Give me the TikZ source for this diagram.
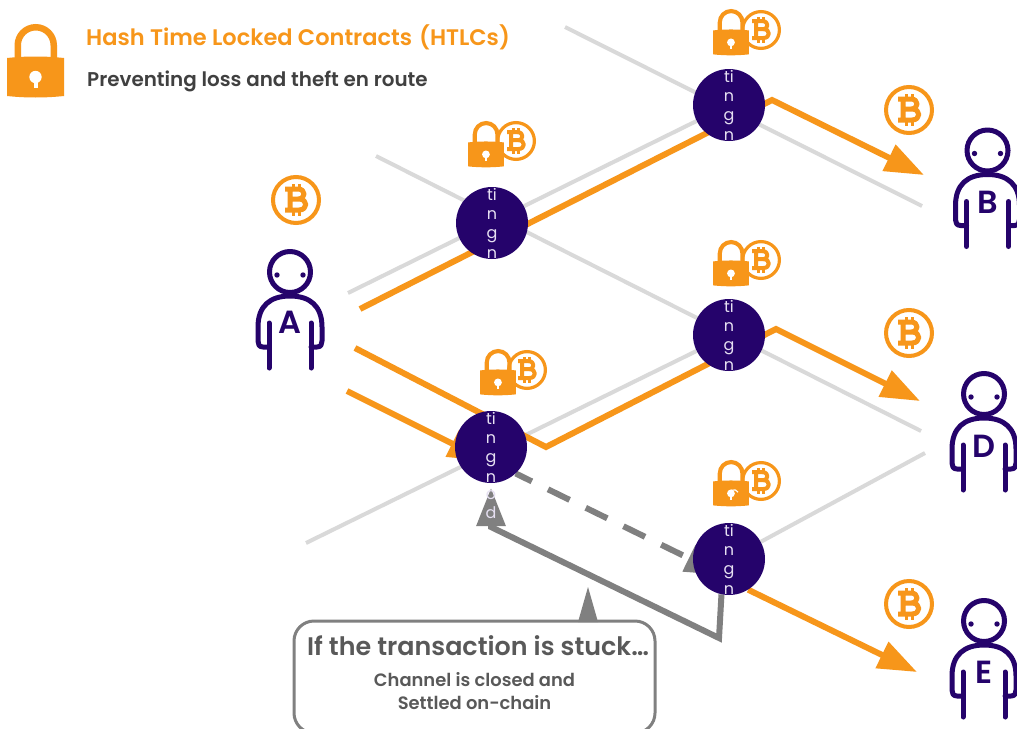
\documentclass[tikz,border=0pt]{standalone}
\usepackage{fontspec}
\setmainfont{Poppins}[BoldFont={Poppins SemiBold}]
\usetikzlibrary{arrows.meta,backgrounds,shapes.geometric}
\definecolor{btc}{HTML}{F7961A}
\definecolor{hop}{HTML}{25036B}
\definecolor{wire}{HTML}{D9D9D9}
\definecolor{stuck}{HTML}{808080}
\definecolor{ink}{HTML}{404040}
\definecolor{inkb}{HTML}{595959}
\definecolor{letter}{HTML}{E6E0F2}
\tikzset{
  hopnode/.style={circle,fill=hop,minimum size=72pt,inner sep=0pt},
  hoptext/.style={text=letter,font=\fontsize{16}{19.3}\selectfont\mdseries,align=center,inner sep=0pt},
  wireline/.style={wire,line width=4pt},
  payline/.style={btc,line width=6pt,miter limit=10},
  paytip/.style={-{Triangle[length=39pt,width=28pt]}},
  stuckline/.style={stuck,line width=6pt},
  stucktip/.style={-{Triangle[length=38pt,width=28pt]}},
  persontxt/.style={text=hop,font=\fontsize{32}{32}\selectfont\bfseries,inner sep=0pt},
  personline/.style={hop,line width=5pt,line cap=round,line join=round}
}
\newcommand{\coinicon}[3]{%
  \begin{scope}[shift={(#1,#2)},scale=#3]
    \draw[btc,line width=#3*4pt] (0,0) circle (23);
    \draw[btc,line width=#3*5pt,line join=round]
      (-11,-11) -- (2,-11) .. controls (10,-11) and (10,-1) .. (2,-1) -- (-6,-1)
      (-6,-1) -- (3,-1) .. controls (12,-1) and (12,10) .. (3,10) -- (-11,10)
      (-6,-11) -- (-6,10);
    \draw[btc,line width=#3*3pt]
      (-3,-16) -- (-3,-11) (3,-16) -- (3,-11) (-3,10) -- (-3,16) (3,10) -- (3,16);
  \end{scope}}
\newcommand{\lockicon}[3]{%
  \begin{scope}[shift={(#1,#2)},scale=#3]
    \draw[btc,line width=#3*6.5pt] (10.75,38) -- (10.75,21.25) arc[start angle=180,end angle=0,x radius=18,y radius=-18] -- (46.75,38);
    \fill[btc] (0,34) .. controls (19,32) and (38,32) .. (57,34) -- (57,72) .. controls (38,74) and (19,74) .. (0,72) -- cycle;
    \fill[white] (28.5,53) circle (6.2);
    \fill[white] (26.5,53) rectangle (30.5,64);
  \end{scope}}
\newcommand{\personicon}[2]{%
  \begin{scope}[shift={(#1,#2)}]
    \draw[personline] (0,0) circle (20.5);
    \fill[hop] (-13,3) circle (2.7) (13,3) circle (2.7);
    \draw[personline] (-21,75) -- (-27,75) .. controls (-31,75) and (-32,72) .. (-32,69) -- (-32,55)
      .. controls (-32,34) and (-20,24) .. (0,24) .. controls (20,24) and (32,34) .. (32,55)
      -- (32,69) .. controls (32,72) and (31,75) .. (27,75) -- (21,75);
    \draw[personline] (-21,51) -- (-21,96) (21,51) -- (21,96);
  \end{scope}}
\begin{document}
\begin{tikzpicture}[x=1pt,y=-1pt]
\useasboundingbox (0,0) rectangle (1017,728);

% hop nodes
\node[hopnode,label={[hoptext]center:ti\\n\\g\\n}] (n1) at (492,223) {};
\node[hopnode,label={[hoptext]center:ti\\n\\g\\n}] (top) at (729,105) {};
\node[hopnode,label={[hoptext]center:ti\\n\\g\\n}] (mid) at (729,335) {};
\node[hopnode,label={[hoptext]center:ti\\n\\g\\n}] (n3) at (491,447) {};
\node[hopnode,label={[hoptext]center:ti\\n\\g\\n}] (low) at (729,559) {};

% free ends
\coordinate (u1) at (565,27);
\coordinate (u2) at (922,206);
\coordinate (v1) at (376,156);
\coordinate (v2) at (921,431);
\coordinate (w1) at (348,293);
\coordinate (w2) at (306,543);
\coordinate (w3) at (925,453);
\coordinate (p1) at (360,309);
\coordinate (p1k) at (772,100);
\coordinate (p1t) at (924,175);
\coordinate (p2) at (355,348);
\coordinate (p2k) at (546,447);
\coordinate (p2m) at (776,329);
\coordinate (p2t) at (920,401);
\coordinate (p3) at (347,391);
\coordinate (p3t) at (487,461);
\coordinate (p4t) at (917,672);
\coordinate (s1) at (719,638);
\coordinate (s2) at (491,527);
\coordinate (s3) at (491,488);
\coordinate (dt) at (723,575);

\begin{scope}[on background layer]
  \fill[white] (0,0) rectangle (1017,728);
  \draw[wireline] (u1) -- (u2);
  \draw[wireline] (v1) -- (v2);
  \draw[wireline] (w1) -- (top);
  \draw[wireline] (w2) -- (mid);
  \draw[wireline] (low) -- (w3);
  \draw[payline,paytip] (p1) -- (p1k) -- (p1t);
  \draw[payline,paytip] (p2) -- (p2k) -- (p2m) -- (p2t);
  \draw[payline,paytip] (p3) -- (p3t);
  \draw[payline,paytip] (low.-58) -- (p4t);
  \draw[stuckline,stucktip,dash pattern=on 24pt off 18pt,dash phase=6pt] (n3.-47) -- (dt);
  \draw[stuckline,stucktip,line join=miter] (low.258) -- (s1) -- (s2) -- (s3);
\end{scope}

\node[hoptext] (n3x) at (491,504.5) {o\\d};

% icons
\lockicon{7}{24}{1}
\node[anchor=base west,text=btc,font=\fontsize{22.5}{24}\selectfont\bfseries,inner sep=0pt] (title) at (86,45.5) {Hash Time Locked Contracts\hspace{7pt}(HTLCs)};
\node[anchor=base west,text=ink,font=\fontsize{19.9}{24}\selectfont\bfseries,inner sep=0pt] (sub) at (87,86) {Preventing loss and theft en route};

\coinicon{516}{141}{0.8}\lockicon{468}{121}{0.63}
\coinicon{761}{30}{0.8}\lockicon{713}{9}{0.63}
\coinicon{761}{260}{0.8}\lockicon{713}{240}{0.63}
\coinicon{527}{370}{0.8}\lockicon{480}{349}{0.63}
\coinicon{761}{481}{0.8}\lockicon{713}{460}{0.63}
\draw[white,line width=1.2pt] (729,493) arc[start angle=200,end angle=330,radius=5];

\coinicon{296}{200}{1}
\coinicon{909}{110}{1}
\coinicon{909}{333}{1}
\coinicon{909}{604}{1}

\personicon{290}{272}
\node[persontxt] (A) at (290,322) {A};
\personicon{987.5}{150.5}
\node[persontxt] (B) at (987.5,202) {B};
\personicon{984}{394}
\node[persontxt] (D) at (984,446) {D};
\personicon{984}{621}
\node[persontxt] (E) at (984,672) {E};

% callout
\node[draw=stuck,line width=3pt,rounded corners=20pt,fill=white,minimum width=361pt,minimum height=112pt,inner sep=0pt] (box) at (474.5,677) {};
\fill[stuck] (578,622) -- (588,587) -- (598,622) -- cycle;
\node[text=inkb,font=\fontsize{25.4}{28}\selectfont\bfseries,inner sep=0pt] (t1) at (478,646) {If the transaction is stuck…};
\node[text=inkb,font=\fontsize{17.9}{23}\selectfont\bfseries,inner sep=0pt,align=center] (t2) at (474.5,691.5) {Channel is closed and\\Settled on-chain};
\end{tikzpicture}
\end{document}
